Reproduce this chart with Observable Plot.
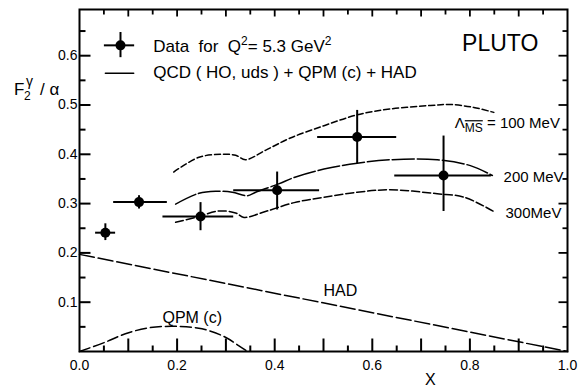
<!DOCTYPE html>
<html><head><meta charset="utf-8">
<script src="https://cdn.jsdelivr.net/npm/d3@7"></script>
<script src="https://cdn.jsdelivr.net/npm/@observablehq/plot@0.6"></script>
<style>
body{margin:0;background:#fff;}
#chart svg{display:block;}
</style></head><body><div id="chart"></div>
<script>
// ---- data ----
const dataX   = [0.053, 0.122, 0.248, 0.405, 0.569, 0.746];
const dataY   = [0.241, 0.303, 0.274, 0.327, 0.435, 0.357];
const dataXlo = [0.033, 0.070, 0.171, 0.316, 0.488, 0.646];
const dataXhi = [0.074, 0.180, 0.316, 0.492, 0.650, 0.844];
const dataYlo = [0.225, 0.289, 0.245, 0.287, 0.381, 0.284];
const dataYhi = [0.259, 0.316, 0.302, 0.364, 0.489, 0.437];

const qcd100X = [0.193, 0.245, 0.292, 0.320, 0.340, 0.381, 0.432, 0.501, 0.569, 0.637, 0.719, 0.760, 0.808, 0.849];
const qcd100Y = [0.364, 0.394, 0.400, 0.398, 0.389, 0.408, 0.433, 0.458, 0.480, 0.492, 0.499, 0.501, 0.495, 0.485];
const qcd200X = [0.197, 0.245, 0.279, 0.313, 0.344, 0.361, 0.408, 0.443, 0.501, 0.569, 0.637, 0.733, 0.801, 0.846];
const qcd200Y = [0.299, 0.321, 0.325, 0.323, 0.316, 0.323, 0.340, 0.354, 0.370, 0.382, 0.389, 0.389, 0.377, 0.357];
const qcd300X = [0.197, 0.245, 0.285, 0.320, 0.337, 0.381, 0.440, 0.501, 0.569, 0.637, 0.733, 0.788, 0.849];
const qcd300Y = [0.262, 0.274, 0.285, 0.281, 0.272, 0.284, 0.302, 0.313, 0.323, 0.328, 0.320, 0.313, 0.284];
const hadX = [0.0, 1.0];
const hadY = [0.197, 0.0];
const qpmX = [0.0, 0.053, 0.094, 0.142, 0.197, 0.251, 0.299, 0.326, 0.344];
const qpmY = [0.0, 0.019, 0.036, 0.048, 0.051, 0.046, 0.029, 0.012, 0.0];

const xTickLabels = [0, 0.2, 0.4, 0.6, 0.8, 1.0];
const yTickLabels = [0.1, 0.2, 0.3, 0.4, 0.5, 0.6];
const xMajor = [0.1, 0.2, 0.3, 0.4, 0.5, 0.6, 0.7, 0.8, 0.9];
const xMinor = [0.05, 0.15, 0.25, 0.35, 0.45, 0.55, 0.65, 0.75, 0.85, 0.95];
const yMajor = [0.1, 0.2, 0.3, 0.4, 0.5, 0.6];
const yMinor = [0.05, 0.15, 0.25, 0.35, 0.45, 0.55, 0.65];

// legend sample (in data units)
const legendPoint = [{x: 0.084, y: 0.621, xlo: 0.051, xhi: 0.113, ylo: 0.596, yhi: 0.647}];
const legendLineX = [0.053, 0.111];
const legendLineY = [0.5645, 0.5645];

const labels = [
  {text: "HAD", x: 0.500, y: 0.1116, size: 16},
  {text: "QPM (c)", x: 0.170, y: 0.057, size: 16},
  {text: "200 MeV", x: 0.869, y: 0.343, size: 15},
  {text: "300MeV", x: 0.873, y: 0.270, size: 15},
  {text: "PLUTO", x: 0.784, y: 0.609, size: 23}
];

// ---- build ----
const W = 581, H = 387, mt = 9, mr = 14, mb = 36, ml = 79;
const X0 = 0, X1 = 1, Y0 = 0, Y1 = 0.6937;
const FONT = "'Liberation Sans', Arial, sans-serif";

const points = dataX.map((x, i) => ({x, y: dataY[i], xlo: dataXlo[i], xhi: dataXhi[i], ylo: dataYlo[i], yhi: dataYhi[i]}));
const series = (xs, ys) => xs.map((x, i) => ({x, y: ys[i]}));

const errMarks = (d) => [
  Plot.ruleY(d, {y: "y", x1: "xlo", x2: "xhi", strokeWidth: 2}),
  Plot.ruleX(d, {x: "x", y1: "ylo", y2: "yhi", strokeWidth: 2}),
  Plot.dot(d, {x: "x", y: "y", r: 5, fill: "black", stroke: "none"})
];

// straight-line tick shape for vector marks (inward ticks)
const tickShape = {draw(context, l) { context.moveTo(0, 0); context.lineTo(0, -l); }};
const tk = (vals, axis, at, len, rot, sw) => Plot.vector(vals, {
  x: axis === "x" ? (d => d) : at,
  y: axis === "x" ? at : (d => d),
  length: len, rotate: rot, anchor: "start", shape: tickShape, strokeWidth: sw, stroke: "black", strokeLinecap: "butt"
});

const chart = Plot.plot({
  width: W, height: H,
  marginTop: mt, marginRight: mr, marginBottom: mb, marginLeft: ml,
  x: {domain: [X0, X1]},
  y: {domain: [Y0, Y1]},
  style: {fontFamily: FONT, color: "#000", background: "#fff"},
  marks: [
    Plot.axisX({ticks: xTickLabels, tickSize: 0, tickPadding: 9, tickFormat: d3.format(".1f"), fontSize: 14, label: null}),
    Plot.axisY({ticks: yTickLabels, tickSize: 0, tickPadding: 2, tickFormat: d3.format(".1f"), fontSize: 14, label: null}),
    tk(xMajor, "x", Y0, 13, 0, 2),
    tk(xMinor, "x", Y0, 6, 0, 2),
    tk(xMajor, "x", Y1, 7, 180, 1.8),
    tk(xMinor, "x", Y1, 5, 180, 1.8),
    tk(yMajor, "y", X0, 11, 90, 2),
    tk(yMinor, "y", X0, 6, 90, 2),
    tk(yMajor, "y", X1, 9, -90, 1.8),
    tk(yMinor, "y", X1, 5, -90, 1.8),
    // curves
    Plot.line(series(qcd100X, qcd100Y), {x: "x", y: "y", curve: "catmull-rom", strokeWidth: 1.5, strokeDasharray: "6,3"}),
    Plot.line(series(qcd200X, qcd200Y), {x: "x", y: "y", curve: "catmull-rom", strokeWidth: 1.5, strokeDasharray: "22,3"}),
    Plot.line(series(qcd300X, qcd300Y), {x: "x", y: "y", curve: "catmull-rom", strokeWidth: 1.5, strokeDasharray: "8,3"}),
    Plot.line(series(hadX, hadY), {x: "x", y: "y", strokeWidth: 1.5, strokeDasharray: "15,4"}),
    Plot.line(series(qpmX, qpmY), {x: "x", y: "y", curve: "catmull-rom", strokeWidth: 1.5, strokeDasharray: "11,4"}),
    // data
    ...errMarks(points),
    // legend
    ...errMarks(legendPoint),
    Plot.line(series(legendLineX, legendLineY), {x: "x", y: "y", strokeWidth: 1.5}),
    // annotations
    Plot.text(labels, {x: "x", y: "y", text: "text", fontSize: "size", textAnchor: "start", lineAnchor: "bottom", fill: "black"}),
    Plot.frame({strokeWidth: 2})
  ]
});
document.getElementById("chart").append(chart);

// rich text (sub/superscripts)
const sx = chart.scale("x"), sy = chart.scale("y");
const svg = d3.select(chart);
const g = svg.append("g").attr("font-family", FONT).attr("fill", "black").attr("text-anchor", "start");

const t1 = g.append("text").attr("x", sx.apply(0.152)).attr("y", sy.apply(0.606)).attr("font-size", 17);
t1.append("tspan").text("Data  for  Q");
t1.append("tspan").attr("dy", -7).attr("font-size", 12).text("2");
t1.append("tspan").attr("dy", 7).text("= 5.3 GeV");
t1.append("tspan").attr("dy", -7).attr("font-size", 12).text("2");

g.append("text").attr("x", sx.apply(0.152)).attr("y", sy.apply(0.554)).attr("font-size", 17)
  .text("QCD ( HO, uds ) + QPM (c) + HAD");

const tl = g.append("text").attr("x", sx.apply(0.770)).attr("y", sy.apply(0.452)).attr("font-size", 15);
tl.append("tspan").text("Λ");
tl.append("tspan").attr("dy", 4).attr("font-size", 12).style("text-decoration", "overline").text("MS");
tl.append("tspan").attr("dy", -4).text(" = 100 MeV");

const ty = g.append("text").attr("font-size", 17);
ty.append("tspan").attr("x", 14).attr("y", 95).text("F");
ty.append("tspan").attr("x", 24).attr("y", 100).attr("font-size", 12).text("2");
ty.append("tspan").attr("x", 26).attr("y", 86).attr("font-size", 14).text("γ");
ty.append("tspan").attr("x", 40).attr("y", 95).text("/ α");

g.append("text").attr("x", sx.apply(0.72)).attr("y", 385).attr("font-size", 16).attr("text-anchor", "middle").text("X");
</script>
</body></html>
